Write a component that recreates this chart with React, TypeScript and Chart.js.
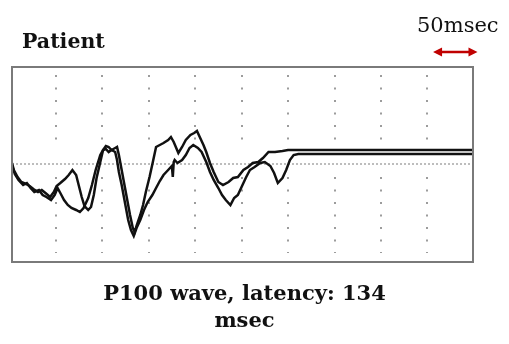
import React, { useEffect, useRef } from "react";
import { Chart, registerables } from "chart.js";

Chart.register(...registerables);

// Latency axis (msec) and amplitude (arbitrary units, baseline = 0)
const trace1X = [3, 5, 9, 13, 18, 22, 26, 31, 35, 39, 44, 48, 51, 55, 60, 64, 68, 72, 75, 78, 81, 85, 88, 91, 94, 98, 101, 104, 107, 110, 114, 116, 118, 120, 123, 127, 130, 133, 135, 137, 141, 144, 147, 151, 155, 158, 162, 166, 171, 174, 177, 182, 186, 190, 195, 199, 202, 205, 209, 212, 216, 220, 225, 230, 236, 241, 246, 252, 257, 262, 268, 273, 279, 286, 294, 300, 306, 499];
const trace1Y = [1, -6, -13, -18, -20, -22, -25, -28, -26, -29, -33, -28, -22, -19, -15, -11, -6, -11, -22, -33, -42, -46, -43, -31, -14, 2, 14, 18, 17, 14, 16, 17, 9, -1, -16, -36, -51, -64, -68, -62, -51, -41, -28, -13, 4, 17, 19, 21, 24, 27, 22, 11, 17, 24, 29, 31, 33, 27, 19, 12, 1, -8, -18, -21, -18, -14, -13, -6, -3, 1, 2, 6, 12, 12, 13, 14, 14, 14];

const trace2X = [3, 6, 10, 15, 19, 23, 27, 32, 36, 40, 45, 49, 52, 55, 59, 63, 67, 72, 76, 80, 85, 89, 93, 98, 101, 104, 107, 110, 114, 116, 118, 121, 125, 128, 131, 134, 137, 141, 145, 149, 154, 158, 162, 166, 171, 175, 176, 177, 178, 181, 186, 190, 194, 198, 203, 207, 212, 216, 220, 225, 229, 233, 238, 242, 246, 250, 255, 259, 264, 270, 275, 281, 285, 289, 294, 298, 302, 306, 311, 499];
const trace2Y = [-1, -10, -16, -21, -19, -24, -28, -26, -31, -33, -36, -31, -24, -29, -36, -41, -44, -46, -48, -44, -34, -21, -6, 9, 14, 15, 12, 14, 12, 4, -8, -21, -41, -56, -66, -72, -64, -56, -46, -38, -31, -24, -17, -11, -6, -2, -13, 2, 4, 1, 4, 9, 16, 19, 16, 12, 2, -8, -16, -24, -31, -36, -41, -34, -31, -23, -13, -6, -3, 1, 2, -2, -9, -19, -14, -6, 4, 9, 10, 10];

const gridTicks = [50, 100, 150, 200, 250, 300, 350, 400, 450];
const xMin = 3;
const xMax = 499;
const yMin = -98;
const yMax = 97;
const scaleBarMs = 50;

const pts = (xs: number[], ys: number[]) => xs.map((x, i) => ({ x, y: ys[i] }));

const framePlugin = {
  id: "frame",
  beforeDatasetsDraw(chart: any) {
    const { ctx, chartArea: a, scales } = chart;
    const xs = scales.x;
    const ys = scales.y;
    ctx.save();
    ctx.fillStyle = "#ffffff";
    ctx.fillRect(a.left, a.top, a.right - a.left, a.bottom - a.top);
    // vertical dotted grid
    ctx.strokeStyle = "#9c9c9c";
    ctx.lineWidth = 2;
    ctx.setLineDash([2, 10.5]);
    for (const t of gridTicks) {
      const px = Math.round(xs.getPixelForValue(t));
      ctx.beginPath();
      ctx.moveTo(px, ys.getPixelForValue(89));
      ctx.lineTo(px, ys.getPixelForValue(14));
      ctx.moveTo(px, ys.getPixelForValue(-13));
      ctx.lineTo(px, ys.getPixelForValue(-89));
      ctx.stroke();
    }
    // baseline
    ctx.strokeStyle = "#a8a8a8";
    ctx.lineWidth = 1.5;
    ctx.setLineDash([2, 2]);
    const by = ys.getPixelForValue(0);
    ctx.beginPath();
    ctx.moveTo(a.left, by);
    ctx.lineTo(a.right, by);
    ctx.stroke();
    ctx.restore();
  },
  afterDatasetsDraw(chart: any) {
    const { ctx, chartArea: a, scales } = chart;
    ctx.save();
    ctx.strokeStyle = "#7a7a7a";
    ctx.lineWidth = 2;
    ctx.setLineDash([]);
    ctx.strokeRect(a.left, a.top, a.right - a.left, a.bottom - a.top);
    // 50 msec scale arrow
    const xs = scales.x;
    const len = xs.getPixelForValue(scaleBarMs) - xs.getPixelForValue(0);
    const x1 = xs.getPixelForValue(456);
    const x2 = x1 + len - 2;
    const y = a.top - 15;
    ctx.strokeStyle = "#c00000";
    ctx.fillStyle = "#c00000";
    ctx.lineWidth = 2.5;
    ctx.beginPath();
    ctx.moveTo(x1 + 5, y);
    ctx.lineTo(x2 - 5, y);
    ctx.stroke();
    ctx.beginPath();
    ctx.moveTo(x1, y);
    ctx.lineTo(x1 + 9, y - 4.5);
    ctx.lineTo(x1 + 9, y + 4.5);
    ctx.closePath();
    ctx.fill();
    ctx.beginPath();
    ctx.moveTo(x2, y);
    ctx.lineTo(x2 - 9, y - 4.5);
    ctx.lineTo(x2 - 9, y + 4.5);
    ctx.closePath();
    ctx.fill();
    ctx.restore();
  },
};

export default function App() {
  const ref = useRef<HTMLCanvasElement | null>(null);
  useEffect(() => {
    if (!ref.current) return;
    const chart = new Chart(ref.current, {
      type: "line",
      data: {
        datasets: [
          { data: pts(trace1X, trace1Y), borderColor: "#111111", borderWidth: 2.5, pointRadius: 0, tension: 0, fill: false },
          { data: pts(trace2X, trace2Y), borderColor: "#111111", borderWidth: 2.5, pointRadius: 0, tension: 0, fill: false },
        ],
      },
      options: {
        responsive: false,
        animation: false,
        layout: { padding: { left: 12, right: 36, top: 67, bottom: 82 } },
        scales: {
          x: { type: "linear", min: xMin, max: xMax, display: false },
          y: { type: "linear", min: yMin, max: yMax, display: false },
        },
        plugins: { legend: { display: false }, tooltip: { enabled: false } },
      },
      plugins: [framePlugin],
    });
    return () => chart.destroy();
  }, []);

  const serif = "'DejaVu Serif', serif";
  return (
    <div style={{ position: "absolute", left: 0, top: 0, width: 509, height: 344, background: "#fff" }}>
      <canvas ref={ref} width={509} height={344} style={{ display: "block", position: "absolute", left: 0, top: 0 }} />
      <div style={{ position: "absolute", left: 22, top: 31, fontFamily: serif, fontWeight: "bold", fontSize: 20.5, lineHeight: "20px", color: "#111" }}>Patient</div>
      <div style={{ position: "absolute", left: 417, top: 15, fontFamily: serif, fontSize: 21, lineHeight: "21px", color: "#111" }}>50msec</div>
      <div style={{ position: "absolute", left: 0, width: 489, top: 283, textAlign: "center", fontFamily: serif, fontWeight: "bold", fontSize: 21, lineHeight: "20px", color: "#111" }}>P100 wave, latency: 134</div>
      <div style={{ position: "absolute", left: 0, width: 489, top: 310, textAlign: "center", fontFamily: serif, fontWeight: "bold", fontSize: 21, lineHeight: "20px", color: "#111" }}>msec</div>
    </div>
  );
}
